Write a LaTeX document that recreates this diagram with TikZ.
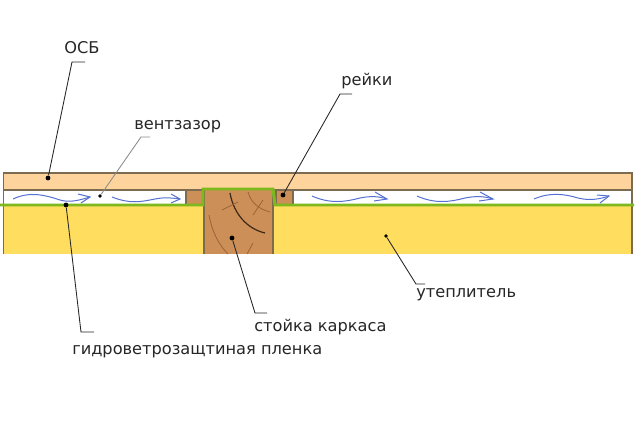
\documentclass[tikz,border=0pt]{standalone}
\usepackage{fontspec}
\setmainfont{DejaVu Sans}
\usetikzlibrary{arrows}
\definecolor{osbfill}{HTML}{FFD49C}
\definecolor{woolfill}{HTML}{FFDD5F}
\definecolor{woodfill}{HTML}{CC8F58}
\definecolor{edgecol}{HTML}{7D6B50}
\definecolor{filmcol}{HTML}{7DB81C}
\definecolor{aircol}{HTML}{5570D0}
\definecolor{graincol}{HTML}{9A6436}
\tikzset{
  caption/.style = {inner sep=0pt, anchor=west, font=\fontsize{12.15pt}{14pt}\selectfont, text=black!85},
  layer/.style = {draw=edgecol, line width=0.9pt},
  film/.style = {draw=filmcol, line width=2.2pt},
  airflow/.style = {draw=aircol, line width=0.75pt},
  grain/.style = {draw=graincol, line width=0.6pt},
  leader/.style = {draw=black!85, line width=0.65pt},
  pin/.style = {circle, fill=black, inner sep=0pt, minimum size=3.6pt},
}
\begin{document}
\begin{tikzpicture}[x=0.75pt,y=-0.75pt]
\useasboundingbox (0,0) rectangle (640,444);
% layers
\fill[woolfill] (3.5,205) rectangle (632,254);
\draw[layer] (632,205) -- (632,254);
\draw[layer] (3.5,205) -- (3.5,254);
\draw[layer, fill=osbfill] (3.5,173) rectangle (632,190);
\draw[layer] (3.5,190) -- (3.5,205) (632,190) -- (632,205);
% rails and stud
\draw[layer, fill=woodfill] (186,190) rectangle (204,205);
\draw[layer, fill=woodfill] (276,190) rectangle (293,205);
\fill[woodfill] (204,189) rectangle (273,254);
\draw[layer] (204,189) -- (204,254) (273,189) -- (273,254);
% grain
\draw[draw=black!60!graincol, line width=0.9pt] (230,193) .. controls (234,215) and (248,229) .. (265,233);
\draw[grain] (248,192) .. controls (251,203) and (259,209) .. (270,212);
\draw[grain] (222,210) -- (238,202);
\draw[grain] (253,215) -- (263,200);
\draw[grain] (209,215) .. controls (212,232) and (219,245) .. (228,254);
\draw[grain] (247,254) -- (253,243);
% film
\draw[film] (0,205) -- (203,205) -- (203,189) -- (273,189) -- (275,205) -- (634,205);
% air in the gap
\draw[airflow] (13,199) .. controls (30,191) and (45,195) .. (60,200) .. controls (70,203) and (80,200) .. (90,197);
\draw[airflow] (78,194) -- (90,197) -- (81,203);
\draw[airflow] (112,197) .. controls (130,204) and (140,202) .. (155,199) .. controls (165,197) and (172,198) .. (180,199);
\draw[airflow] (171,194) -- (180,199) -- (171,203);
\draw[airflow] (312,196) .. controls (330,204) and (345,202) .. (360,198) .. controls (370,196) and (378,196) .. (387,199);
\draw[airflow] (375,192) -- (387,199) -- (374,201);
\draw[airflow] (417,196) .. controls (435,204) and (450,202) .. (465,198) .. controls (475,196) and (484,196) .. (493,199);
\draw[airflow] (480,192) -- (493,199) -- (479,201);
\draw[airflow] (534,199) .. controls (550,192) and (565,194) .. (578,198) .. controls (590,201) and (600,199) .. (609,196);
\draw[airflow] (597,195) -- (609,196) -- (600,203);
% captions
\node[caption] (osb) at (64,48) {ОСБ};
\node[caption] (gap) at (134,127) {вентзазор};
\node[caption] (rail) at (341,81) {рейки};
\node[caption] (wool) at (416,295) {утеплитель};
\node[caption] (stud) at (254,327) {стойка каркаса};
\node[caption] (membrane) at (72,352) {гидроветрозащтиная пленка};
% pins
\node[pin] (osbpin) at (48,178) {};
\node[pin, minimum size=2.8pt] (gappin) at (100,196) {};
\node[pin] (railpin) at (283,195) {};
\node[pin, minimum size=2.8pt] (woolpin) at (386,236) {};
\node[pin] (studpin) at (232,238) {};
\node[pin] (membranepin) at (66,205) {};
% leaders
\coordinate (osbend) at (85,62);
\coordinate (gapend) at (150,137);
\coordinate (railend) at (352,94);
\coordinate (woolend) at (425,284);
\coordinate (studend) at (267,313);
\coordinate (membraneend) at (94,332);
\draw[leader] (osbend) -- (72,62) -- (osbpin);
\draw[leader, draw=black!45] (gapend) -- (141,137) -- (gappin);
\draw[leader] (railend) -- (340,94) -- (railpin);
\draw[leader] (woolend) -- (416,284) -- (woolpin);
\draw[leader] (studend) -- (255,313) -- (studpin);
\draw[leader] (membraneend) -- (81,332) -- (membranepin);
\end{tikzpicture}
\end{document}
